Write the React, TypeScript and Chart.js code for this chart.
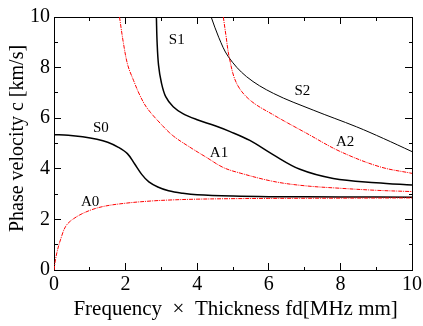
import React, { useEffect, useRef } from 'react';
import { Chart, registerables } from 'chart.js';

Chart.register(...registerables);

// fd [MHz mm] and phase velocity c [km/s]
const A0_FD = [0, 0.04, 0.1, 0.18, 0.32, 0.5, 0.87, 1.34, 2, 2.74, 3.3, 4, 5, 6, 8, 10];
const A0_C = [0, 0.4, 0.8, 1.19, 1.71, 1.98, 2.28, 2.5, 2.64, 2.73, 2.77, 2.8, 2.82, 2.83, 2.84, 2.85];

const S0_FD = [0, 0.4, 0.8, 1.2, 1.5, 1.8, 2.05, 2.25, 2.45, 2.65, 2.9, 3.2, 3.6, 4, 5, 6, 8, 10];
const S0_C = [5.35, 5.33, 5.27, 5.17, 5.05, 4.85, 4.6, 4.2, 3.78, 3.48, 3.28, 3.13, 3.03, 2.97, 2.92, 2.9, 2.89, 2.88];

const A1_FD = [1.83, 1.94, 2.06, 2.22, 2.4, 2.6, 3.0, 3.33, 3.8, 4.26, 4.73, 5.2, 6.13, 7, 8, 9, 10];
const A1_C = [10, 8.96, 8.1, 7.5, 6.9, 6.4, 5.75, 5.3, 4.85, 4.45, 4.05, 3.83, 3.5, 3.33, 3.23, 3.15, 3.1];

const S1_FD = [2.86, 2.88, 2.92, 3.0, 3.12, 3.33, 3.6, 3.98, 4.5, 4.92, 5.47, 6.13, 6.87, 7.8, 9, 10];
const S1_C = [10, 9, 8.1, 7.4, 6.85, 6.45, 6.18, 5.95, 5.7, 5.47, 5.12, 4.55, 3.98, 3.62, 3.45, 3.36];

const S2_FD = [4.39, 4.6, 4.87, 5.38, 6.13, 7.24, 8.45, 9.2, 10];
const S2_C = [10, 9.2, 8.43, 7.64, 6.98, 6.32, 5.66, 5.2, 4.68];

const A2_FD = [4.73, 4.8, 4.9, 5.1, 5.47, 6.13, 7.06, 8, 9.1, 10];
const A2_C = [10, 9.3, 8.37, 7.38, 6.72, 6.13, 5.4, 4.68, 4.08, 3.82];

// curve names and where their labels sit (data units)
const MODE_NAMES = ['S0', 'S1', 'S2', 'A0', 'A1', 'A2'];
const LABEL_FD = [1.31, 3.43, 6.94, 1.01, 4.61, 8.13];
const LABEL_C = [5.61, 9.07, 7.08, 2.7, 4.64, 5.04];

const X_TITLE = '\u00a0Frequency \u00a0\u00d7\u00a0 Thickness fd[MHz mm]';
const Y_TITLE = '\u00a0\u00a0Phase velocity c [km/s]';

const FONT = "'Liberation Serif', 'Times New Roman', serif";

const zip = (xs: number[], ys: number[]) => xs.map((x, i) => ({ x, y: ys[i] }));

const labelPlugin = {
  id: 'modeLabels',
  afterDatasetsDraw(chart: any) {
    const { ctx, scales } = chart;
    ctx.save();
    ctx.font = `15px ${FONT}`;
    ctx.fillStyle = '#000';
    ctx.textAlign = 'center';
    ctx.textBaseline = 'middle';
    MODE_NAMES.forEach((n, i) => {
      ctx.fillText(n, scales.x.getPixelForValue(LABEL_FD[i]), scales.y.getPixelForValue(LABEL_C[i]));
    });
    ctx.restore();
  },
};

export default function App() {
  const ref = useRef<HTMLCanvasElement>(null);
  useEffect(() => {
    if (!ref.current) return;
    const red = { borderColor: '#ff0000', borderWidth: 1, borderDash: [4, 1, 1, 1] };
    const mk = (label: string, xs: number[], ys: number[], style: any) => ({
      label,
      data: zip(xs, ys),
      pointRadius: 0,
      fill: false,
      tension: 0.35,
      ...style,
    });
    const tickDashIn = (ctx: any) => (ctx.tick && ctx.tick.value % 2 !== 0 ? [0, 3, 4, 100] : []);
    const tickDashOut = (ctx: any) => (ctx.tick && ctx.tick.value % 2 !== 0 ? [4, 100] : []);
    const grid = (dash: any) => ({
      drawOnChartArea: false,
      drawTicks: true,
      tickLength: -7,
      tickColor: '#000',
      tickWidth: 1,
      tickBorderDash: dash,
    });
    const border = { display: true, color: '#000', width: 1 };
    const tickFont = { family: FONT, size: 20 };
    const noPadH = (s: any, h: number) => { s.height = h; s.paddingLeft = 0; s.paddingRight = 0; };
    const noPadV = (s: any, w: number) => { s.width = w; s.paddingTop = 0; s.paddingBottom = 0; };
    const chart = new Chart(ref.current, {
      type: 'line',
      data: {
        datasets: [
          mk('A0', A0_FD, A0_C, red),
          mk('A1', A1_FD, A1_C, red),
          mk('A2', A2_FD, A2_C, red),
          mk('S0', S0_FD, S0_C, { borderColor: '#000', borderWidth: 1.5 }),
          mk('S1', S1_FD, S1_C, { borderColor: '#000', borderWidth: 1.5 }),
          mk('S2', S2_FD, S2_C, { borderColor: '#000', borderWidth: 1 }),
        ],
      },
      options: {
        responsive: false,
        animation: false,
        layout: { padding: 0 },
        plugins: { legend: { display: false }, tooltip: { enabled: false } },
        scales: {
          x: {
            type: 'linear',
            position: 'bottom',
            min: 0,
            max: 10,
            grid: grid(tickDashOut),
            border,
            ticks: {
              stepSize: 1,
              autoSkip: false,
              maxRotation: 0,
              padding: 10,
              color: '#000',
              font: tickFont,
              callback: (v: any) => (v % 2 === 0 ? String(v) : ''),
            },
            title: { display: true, text: X_TITLE, color: '#000', font: { family: FONT, size: 21 }, padding: { top: 0, bottom: 4 } },
            afterFit: (s: any) => noPadH(s, 56),
          },
          x2: {
            type: 'linear',
            position: 'top',
            min: 0,
            max: 10,
            grid: grid(tickDashIn),
            border,
            ticks: { stepSize: 1, autoSkip: false, display: false },
            afterFit: (s: any) => noPadH(s, 17),
          },
          y: {
            type: 'linear',
            position: 'left',
            min: 0,
            max: 10,
            grid: grid(tickDashIn),
            border,
            ticks: {
              stepSize: 1,
              autoSkip: false,
              padding: 11,
              color: '#000',
              font: tickFont,
              callback: (v: any) => (v % 2 === 0 ? String(v) : ''),
            },
            title: { display: true, text: Y_TITLE, color: '#000', font: { family: FONT, size: 20 }, padding: { top: 6, bottom: 0 } },
            afterFit: (s: any) => noPadV(s, 54),
          },
          y2: {
            type: 'linear',
            position: 'right',
            min: 0,
            max: 10,
            grid: grid(tickDashOut),
            border,
            ticks: { stepSize: 1, autoSkip: false, display: false },
            afterFit: (s: any) => noPadV(s, 11),
          },
        },
      },
      plugins: [labelPlugin],
    } as any);
    return () => chart.destroy();
  }, []);
  return (
    <div style={{ position: 'fixed', left: 0, top: 0, width: 423, height: 326, background: '#fff' }}>
      <canvas ref={ref} width={423} height={326} style={{ display: 'block' }} />
    </div>
  );
}
